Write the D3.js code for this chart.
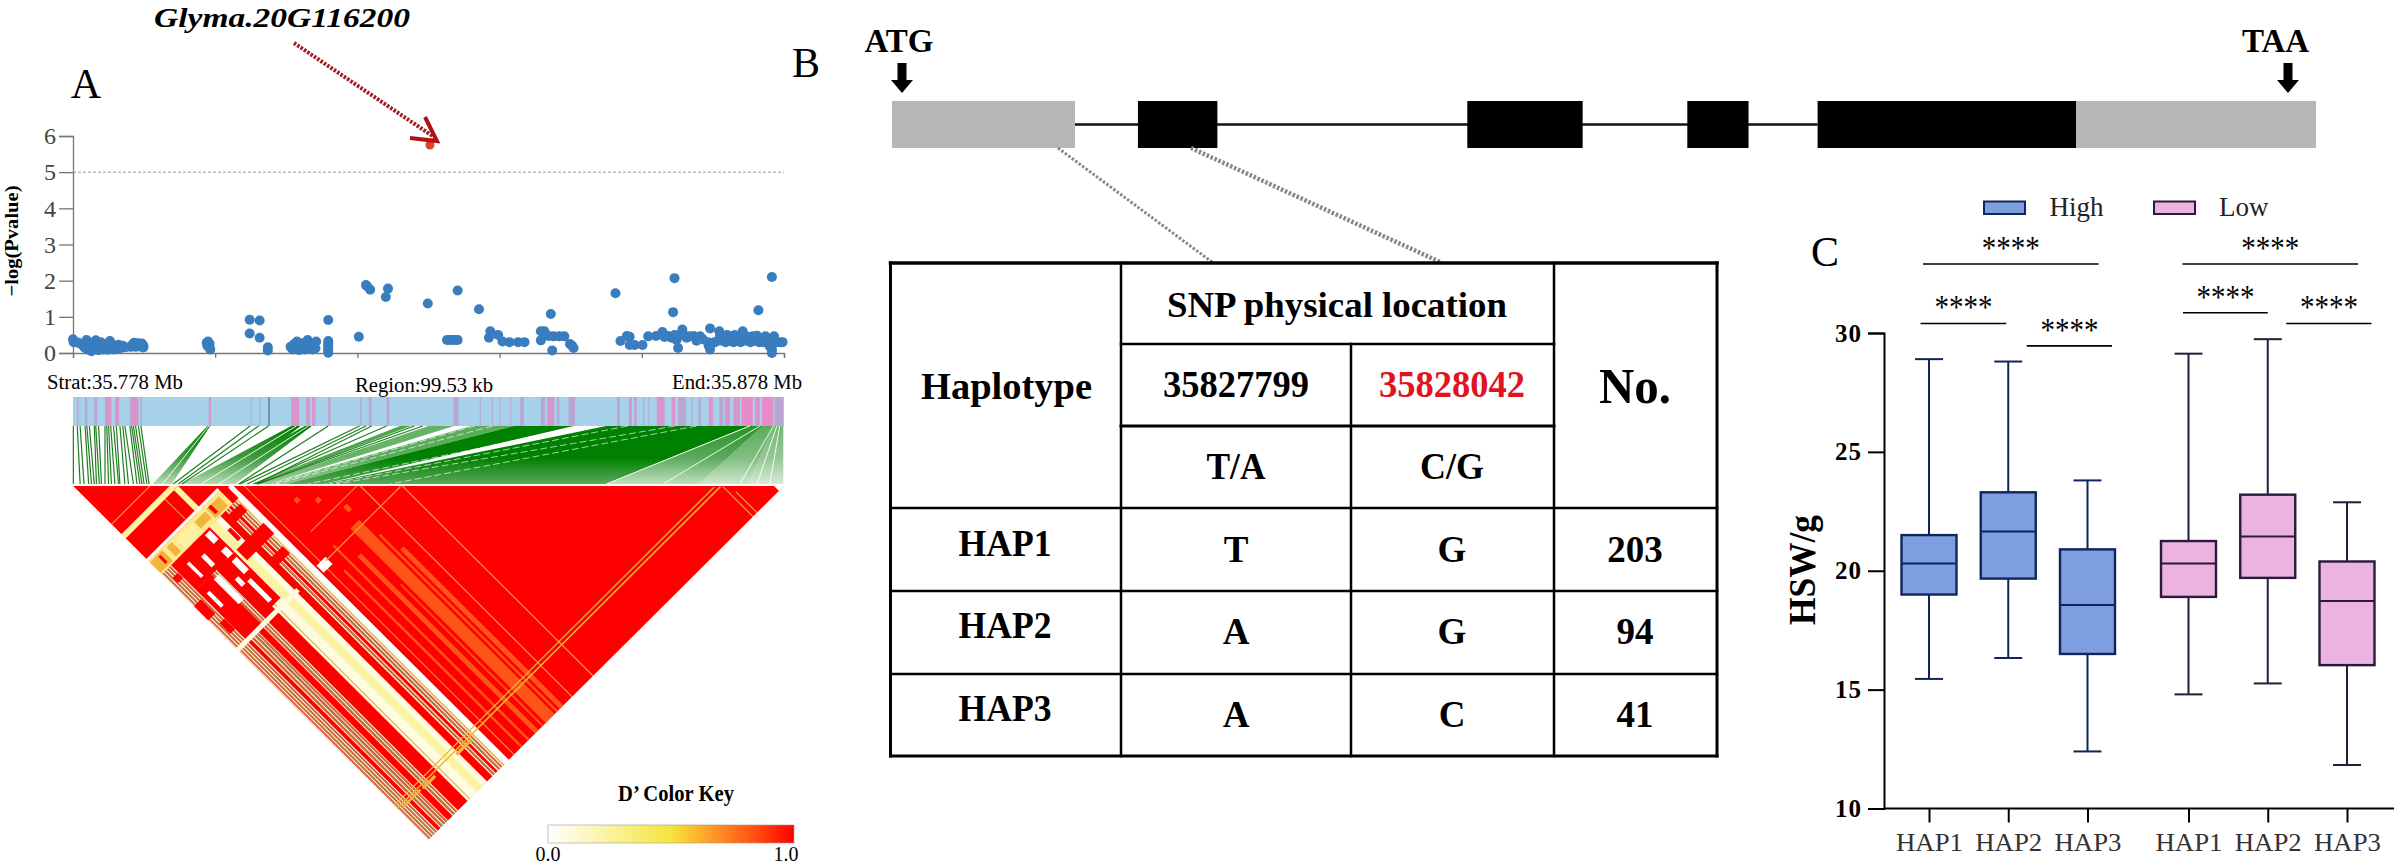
<!DOCTYPE html>
<html><head><meta charset="utf-8">
<script src="https://cdn.jsdelivr.net/npm/d3@7"></script>
<style>html,body{margin:0;background:#fff}svg{display:block}text{font-family:"Liberation Serif",serif}</style>
</head><body><svg id="c" width="2397" height="866"></svg>
<script>
/* ---------- Panel A : association scan (position kb from region start, -log10 P) ---------- */
const leadSnp=[[50.2,5.75]];
const scanLeft=[[0,.38],[.1,.3],[.5,.3],[.9,.27],[1.3,.23],[1.6,.15],[1.9,.36],[1.9,.25],[2,.1],[2.3,.18],[2.6,.05],[2.9,.22],[3,.12],[3.2,.35],[3.3,.28],[3.5,.2],[3.6,.08],[3.9,.3],[4,.15],[4.3,.1],[4.4,.25],[4.8,.2],[4.9,.09],[5.2,.33],[5.3,.26],[5.4,.16],[5.7,.1],[5.9,.2],[6.2,.12],[6.4,.23],[6.8,.14],[7,.2],[7.4,.16],[8.1,.17],[8.4,.24],[8.6,.28],[8.8,.17],[9.2,.27],[9.4,.18],[9.7,.26],[9.9,.2],[9.9,.15]];
const scanMid=[[18.8,.28],[19,.32],[19.2,.26],[18.9,.2],[19.2,.17],[19.3,.1],[24.85,.92],[26.25,.9],[24.85,.54],[26.25,.42],[27.4,.16],[27.4,.07],[35.9,.91],[30.6,.17],[30.9,.1],[31.1,.25],[31.2,.14],[31.5,.32],[31.6,.2],[31.8,.08],[32.1,.27],[32.2,.15],[32.6,.22],[32.6,.1],[33,.36],[33.1,.27],[33.2,.15],[33.5,.25],[33.7,.1],[33.9,.2],[34.2,.32],[34.1,.13],[35.9,.33],[35.9,.26],[35.9,.2],[35.9,.14],[35.9,.08],[35.9,.01],[40.2,.45],[41.2,1.88],[41.4,1.84],[41.8,1.75],[44.3,1.78],[44,1.55],[49.9,1.37],[54.1,1.73],[57.1,1.21],[52.6,.36],[53,.36],[53.4,.36],[53.8,.36],[54.1,.36],[58.7,.6],[58.5,.42],[59.8,.5],[60.4,.32],[61.4,.3],[62.6,.3],[63.5,.3],[67.2,1.08],[65.8,.6],[66.3,.6],[65.8,.35],[66.9,.47],[67.6,.46],[68.4,.46],[69.1,.46],[67.4,.07],[69.9,.25],[70.2,.2],[70.4,.14]];
const scanRight=[[76.3,1.65],[84.6,2.07],[84.4,1.13],[96.4,1.18],[98.3,2.1],[77,.33],[77.9,.47],[78.3,.45],[78.3,.22],[79,.22],[80.1,.22],[80.9,.46],[82,.47],[82.9,.58],[83.2,.44],[83.7,.47],[84.2,.42],[84.6,.5],[84.9,.36],[85.1,.14],[85.3,.5],[85.7,.65],[85.9,.5],[86.3,.42],[86.7,.46],[87.3,.47],[87.7,.34],[88.2,.46],[88.6,.38],[89.6,.68],[89.3,.3],[89.4,.2],[89.6,.1],[90,.28],[90.3,.3],[90.7,.34],[90.9,.6],[91,.48],[91.3,.34],[91.5,.44],[91.8,.3],[92,.5],[92.3,.34],[92.6,.46],[92.9,.3],[93.1,.5],[93.4,.34],[93.7,.44],[93.9,.3],[94.2,.6],[94.5,.48],[94.7,.34],[95,.44],[95.3,.3],[95.6,.46],[95.9,.34],[96.2,.48],[96.5,.3],[96.8,.4],[97.1,.3],[97.4,.46],[97.7,.34],[98,.18],[98.1,.3],[98.3,.1],[98.3,.0],[98.6,.46],[98.9,.3],[99.4,.3],[99.8,.3]];
const scanTicks=[0,1,2,3,4,5,6];
const threshold=5;

/* ---------- SNP strip: pink marks [from,to,kind] in kb ---------- */
const stripMarks=[[.6,.8,"m"],[1.7,2,"m"],[3,3.4,"m"],[4.5,5.4,"p"],[5.9,6.5,"p"],[8,8.3,"m"],[8.3,9.2,"p"],[9.5,9.7,"m"],[19.1,19.4,"p"],[25,25.1,"m"],[26.2,26.3,"m"],[27.5,27.6,"d"],[30.7,31.8,"p"],[32.8,33.3,"p"],[33.6,34.1,"p"],[35.9,36.2,"p"],[40.4,40.6,"m"],[41.6,42,"m"],[44.1,44.5,"m"],[53.5,54.2,"m"],[57.2,57.3,"m"],[58.9,59,"m"],[60,60.1,"m"],[61.5,61.6,"m"],[62.9,63.4,"m"],[65.8,66.4,"m"],[66.7,67.7,"p"],[68.1,68.4,"m"],[69.7,70.6,"m"],[76.5,76.9,"m"],[78.2,78.6,"p"],[78.9,79.3,"m"],[80.2,80.3,"m"],[80.9,81,"m"],[82.1,83.2,"p"],[84.2,84.7,"p"],[85.1,86.2,"m"],[87,87.1,"m"],[88,88.3,"m"],[89.4,90,"p"],[90.9,91.5,"m"],[91.7,92.4,"p"],[92.9,93.8,"p"],[94,95.6,"s"],[95.9,96.6,"p"],[96.9,98.5,"s"],[98.7,99.9,"m"]];

/* ---------- Links from SNP strip (genomic) to LD triangle (SNP order): top from/to, bottom from/to, opacity, fade ---------- */
const linkFans=[[18.9,19.3,11.2,13.9,1,"fadeLight"],[30.7,32,15.3,21.6,1,"fadeLight"],[32.6,33.6,18.3,22.8,1,"fadeLight"],[46,47.5,25.2,26,.7,"fade"],[50,53.6,26,27.5,.6,"fade"],[56,62,27.5,30,.65,"fade"],[62,70.4,30,35.2,1,"fade"],[75,95,35.2,75,1,"fade"],[95,97,75,88,.85,"fadeLight"],[97,98.5,88,95,.65,"fadeLight"],[98.5,99.9,95,99.9,.55,"fadeLight"]];
const linkLines=[[.05,.05],[.6,1],[1,1.55],[1.7,2.2],[1.95,2.6],[2.3,3],[3,3.3],[3.2,3.7],[3.6,4],[4.5,4.5],[4.75,5],[5,5.4],[5.3,5.9],[5.7,6.4],[6.1,6.6],[6.6,7.3],[7,7.8],[7.3,8.5],[8,9],[8.25,9.4],[8.5,9.7],[8.8,10],[9.2,10.4],[9.55,10.7],[24.9,14.1],[26.1,14.8],[27.5,15.3],[35.9,23.3],[40.3,23.5],[41.2,24.5],[42,25.8],[44.1,25.4],[48,25.9],[49.2,26]];
const linkGaps=[[95.2,75],[96.6,83],[98.5,93.8],[99,96.2],[99.4,98],[19.1,12.6],[31.4,18],[33.1,20.5]];
const linkDashGaps=[[87.7,44.6],[84.7,37],[78,36],[72,33],[59,28.5],[56.5,28]];

/* ---------- LD triangle bands: [SNP i from, i to, SNP j from, j to, colour key] ---------- */
const ldBands=[
[0,10.8,10.7,10.95,"o"],[11,11.2,14.8,20.4,"o"],[0,14.8,13.6,14.8,"y"],[13.6,14.8,14.8,25,"y"],
[0,20,20.6,21.3,"w"],[0,20,21.3,25,"n"],[0,3.5,21.6,24.6,"g"],[4.5,6,21.8,24.4,"g"],[7,11.5,22,24.6,"y"],[12,15,22.2,24,"g"],[15.5,19,22,24.6,"g"],[2,2.6,22,24,"r"],[16,16.8,22,24,"r"],
[0,22.6,25,100,"c"],
[.2,.6,25,100,"b"],[.8,1.2,25,100,"b"],[1.4,1.8,25,100,"b"],[2,2.4,25,100,"b"],[2.6,3.4,25,100,"r"],[3.6,4.1,25,100,"b"],[4.3,4.8,25,100,"b"],[4.95,5.35,25,100,"b"],[5.5,6.8,25,100,"r"],[7,7.5,25,100,"b"],[7.7,8.1,25,100,"b"],[8.3,11,25,100,"r"],
[11.5,11.75,25,100,"t"],[13.6,15.2,25,100,"y"],[16.5,18,25,100,"r"],[18.25,18.7,25,100,"b"],[18.9,19.5,25,100,"r"],[19.75,20.2,25,100,"b"],[20.4,20.8,25,100,"b"],[21,21.3,25,100,"t"],
[3,13.4,25,32,"r"],[3,7,32,46,"r"],[9,13.4,32,45,"r"],
[11.6,13,25.5,28,"w"],[11.6,13,30,32,"w"],[11.6,13,33,36.5,"w"],[6.6,8,33,40,"w"],[5,5.7,27,31,"w"],[8,9,28,31,"w"],[3.6,4.4,34,38,"w"],[9.5,10.5,36,38,"w"],[11,12,38,44,"w"],[0,2,34,38,"r"],[1,2.5,27,28.5,"r"],[1.2,2.6,40,43,"r"],
[14,22,32,35,"r"],[15.4,16.3,28,31,"r"],[17,21,26,28,"r"],[17,21,38,40,"r"],
[0,17,45.8,46.8,"c"],
[21.6,22.6,22,100,"w"],[24,24.2,22.6,100,"o"],
[23,25.5,45.5,47.5,"w"],
[28,28.5,45,100,"l"],[30,31,50,100,"l"],[33,35.5,45,100,"l"],[36,36.5,50,100,"l"],[37,38,55,100,"l"],[26,26.5,50,100,"l"],[32,32.4,60,100,"l"],
[40.3,40.55,39.9,100,"o"],[46.2,46.45,46,100,"o"],
[27,39.9,39.8,40,"o"],[25,46,46,46.25,"o"],[29,30,33,34,"l"],[32,33,36,37,"l"],[35,36,41,42.5,"l"],
[0,90,90.2,90.45,"g"],[0,91,91,91.3,"g"],[1,6,91.5,92,"g"],[6.5,10,91.6,92.2,"g"],[16,20,91.5,92.2,"g"],
[91.2,91.45,91.5,100,"o"],[92.3,92.55,94,100,"o"],
[98.6,100,98.6,100,"w"]
];
const ldColours={r:"#ff0000",c:"#fffbe0",y:"#fbf3a2",n:"#ffe88e",g:"#f1b53c",o:"#fb8f3c",b:"#c76a40",t:"#e3b264",w:"#ffffff",l:"#ff5418"};
const keyStops=[[0,"#ffffff"],[.5,"#f6e53c"],[.7,"#ff8c24"],[.85,"#ff4a10"],[1,"#ff0000"]];

/* ---------- Panel B ---------- */
const geneParts=[[0,12.85,"u"],[17.27,22.85,"e"],[40.4,48.5,"e"],[55.85,60.15,"e"],[65,83.15,"e"],[83.15,100,"u"]];
const tableHeadTop="SNP physical location";
const tableSnps=["35827799","35828042"];
const tableAlleles=["T/A","C/G"];
const tableHaps=["HAP1","HAP2","HAP3"];
const tableFirst=["T","A","A"];
const tableSecond=["G","G","C"];
const tableCounts=["203","94","41"];

/* ---------- Panel C ---------- */
const boxGroups=["High","Low"];
const boxHaps=["HAP1","HAP2","HAP3"];
const boxHigh=[[15.45,19,20.3,21.5,28.9],[16.33,19.67,21.65,23.3,28.8],[12.4,16.5,18.56,20.9,23.8]];
const boxLow=[[14.8,18.9,20.3,21.25,29.13],[15.26,19.7,21.44,23.2,29.74],[11.83,16.03,18.73,20.39,22.88]];
const boxTicks=[10,15,20,25,30];
const brackets=[["High",0,2,32.9],["High",0,1,30.4],["High",1,2,29.46],["Low",0,2,32.9],["Low",0,1,30.85],["Low",1,2,30.4]];

/* ---------- drawing ---------- */
const svg=d3.select("#c");
const defs=svg.append("defs");
const T=(x,y,s,o={})=>{const t=svg.append("text").attr("x",x).attr("y",y).text(s)
  .attr("font-size",o.size||20).attr("text-anchor",o.anchor||"middle").attr("fill",o.fill||"#000")
  .attr("font-weight",o.weight||"normal").attr("font-style",o.style||"normal");
  if(o.len)t.attr("textLength",o.len).attr("lengthAdjust","spacingAndGlyphs");
  if(o.rot)t.attr("transform",`rotate(${o.rot} ${x} ${y})`);
  if(o.family)t.style("font-family",o.family);return t;};

/* A : scan */
const xKb=d3.scaleLinear().domain([0,100]).range([73,784]);
const yP=d3.scaleLinear().domain([0,6]).range([353,136]);
const axA=svg.append("g").attr("color","#777");
axA.append("g").attr("transform","translate(73,0)").call(d3.axisLeft(yP).tickValues(scanTicks).tickSize(14).tickPadding(3).tickFormat(d3.format("d")))
  .call(g=>g.selectAll("text").attr("font-size",24).attr("fill","#444").style("font-family","Liberation Serif"))
  .call(g=>g.selectAll("path,line").attr("stroke-width",1.3));
axA.append("g").attr("transform","translate(0,353)").call(d3.axisBottom(xKb).tickValues([0,20,40,60,80,100]).tickSize(5).tickFormat(""))
  .call(g=>g.selectAll("path,line").attr("stroke-width",1.3));
svg.append("line").attr("x1",xKb(0)).attr("x2",xKb(100)).attr("y1",yP(threshold)).attr("y2",yP(threshold))
  .attr("stroke","#999").attr("stroke-width",1).attr("stroke-dasharray","3 2");
svg.append("g").selectAll("circle").data([...scanLeft,...scanMid,...scanRight]).join("circle")
  .attr("cx",d=>xKb(d[0])).attr("cy",d=>yP(d[1])).attr("r",5).attr("fill","#3a7dbf");
svg.append("g").selectAll("circle").data(leadSnp).join("circle")
  .attr("cx",d=>xKb(d[0])).attr("cy",d=>yP(d[1])).attr("r",4.5).attr("fill","#e0403a");
T(14,241,"−log(Pvalue)",{size:19,weight:"bold",rot:-90,len:111}).attr("dominant-baseline","middle");
T(47,389,"Strat:35.778 Mb",{size:20,anchor:"start",len:136});
T(424,392,"Region:99.53 kb",{size:20,len:138});
T(737,389,"End:35.878 Mb",{size:20,len:130});
T(282,27,"Glyma.20G116200",{size:27,weight:"bold",style:"italic",len:256});
svg.append("line").attr("x1",294).attr("y1",43).attr("x2",434).attr("y2",137).attr("stroke","#a51c24").attr("stroke-width",4).attr("stroke-dasharray","2.5 1.5");
svg.append("path").attr("d",d3.line()([[425,117],[437,141],[410,138]])).attr("fill","none").attr("stroke","#b01212").attr("stroke-width",4);
T(86,98,"A",{size:42});T(806,77,"B",{size:42});T(1825,266,"C",{size:42});

/* strip */
const kindCol={m:"#b9a6d4",p:"#d795cc",s:"#e98bc9",d:"#3d5c78"};
svg.append("rect").attr("x",xKb(0)).attr("y",397).attr("width",xKb(100)-xKb(0)).attr("height",29).attr("fill","#a7d1e8");
svg.append("g").selectAll("rect").data(stripMarks).join("rect")
  .attr("x",d=>xKb(d[0])).attr("width",d=>Math.max(1,xKb(d[1])-xKb(d[0]))).attr("y",397).attr("height",29).attr("fill",d=>kindCol[d[2]]);

/* links */
const gTop=426,gBot=484,GREEN="#008000";
[["fade","#5aa85a"],["fadeLight","#b4dab4"]].forEach(f=>{
  const grad=defs.append("linearGradient").attr("id",f[0]).attr("gradientUnits","userSpaceOnUse").attr("x1",0).attr("x2",0).attr("y1",gTop).attr("y2",gBot);
  grad.append("stop").attr("offset",0).attr("stop-color",GREEN);
  grad.append("stop").attr("offset",.55).attr("stop-color",f[0]==="fade"?GREEN:"#3f9a3f");
  grad.append("stop").attr("offset",1).attr("stop-color",f[1]);
});
svg.append("g").selectAll("path").data(linkFans).join("path")
  .attr("d",d=>d3.line()([[xKb(d[0]),gTop],[xKb(d[1]),gTop],[xKb(d[3]),gBot],[xKb(d[2]),gBot]])+"Z")
  .attr("fill",d=>`url(#${d[5]})`).attr("opacity",d=>d[4]);
svg.append("g").selectAll("line").data(linkLines).join("line")
  .attr("x1",d=>xKb(d[0])).attr("x2",d=>xKb(d[1])).attr("y1",gTop).attr("y2",gBot)
  .attr("stroke","#1f7f1f").attr("stroke-width",1.2);
svg.append("g").selectAll("line").data(linkGaps).join("line")
  .attr("x1",d=>xKb(d[0])).attr("x2",d=>xKb(d[1])).attr("y1",gTop).attr("y2",gBot).attr("stroke","#fff").attr("stroke-width",.9);
svg.append("g").selectAll("line").data(linkDashGaps).join("line")
  .attr("x1",d=>xKb(d[0])).attr("x2",d=>xKb(d[1])).attr("y1",gTop).attr("y2",gBot).attr("stroke","#fff").attr("stroke-width",.8).attr("stroke-opacity",.8).attr("stroke-dasharray","7 3");

/* triangle */
const ldTop=486, yD=d3.scaleLinear().domain([0,100]).range([ldTop,ldTop+354]);
const pt=(i,j)=>[xKb((i+j)/2),yD(j-i)];
defs.append("clipPath").attr("id","tri").append("path").attr("d",d3.line()([pt(0,0),pt(100,100),pt(0,100)])+"Z");
const ld=svg.append("g").attr("clip-path","url(#tri)");
ld.append("path").attr("d",d3.line()([pt(0,0),pt(100,100),pt(0,100)])+"Z").attr("fill",ldColours.r);
ld.selectAll("path.b").data(ldBands).join("path").attr("class","b")
  .attr("d",d=>d3.line()([pt(d[0],d[2]),pt(d[1],d[2]),pt(d[1],d[3]),pt(d[0],d[3])])+"Z")
  .attr("fill",d=>ldColours[d[4]]);

/* colour key */
const kg=defs.append("linearGradient").attr("id","key");
keyStops.forEach(s=>kg.append("stop").attr("offset",s[0]).attr("stop-color",s[1]));
svg.append("rect").attr("x",548).attr("y",825).attr("width",246).attr("height",18).attr("fill","url(#key)").attr("stroke","#999").attr("stroke-width",.6);
T(676,801,"D’ Color Key",{size:23,weight:"bold",len:116});
T(548,861,"0.0",{size:20});T(786,861,"1.0",{size:20});

/* B : gene model */
const xGene=d3.scaleLinear().domain([0,100]).range([892,2316]);
svg.append("line").attr("x1",xGene(12.85)).attr("x2",xGene(65)).attr("y1",124.5).attr("y2",124.5).attr("stroke","#111").attr("stroke-width",2.5);
svg.append("g").selectAll("rect").data(geneParts).join("rect")
  .attr("x",d=>xGene(d[0])).attr("width",d=>xGene(d[1])-xGene(d[0])).attr("y",101).attr("height",47)
  .attr("fill",d=>d[2]==="u"?"#b7b7b7":"#000");
[[902,"ATG",899],[2288,"TAA",2275.5]].forEach(a=>{
  T(a[2],52,a[1],{size:33,weight:"bold"});
  svg.append("path").attr("fill","#000").attr("d",d3.line()([[a[0]-4.5,63],[a[0]+4.5,63],[a[0]+4.5,80],[a[0]+11,80],[a[0],93],[a[0]-11,80],[a[0]-4.5,80]])+"Z");
});
[[1058,1212,3],[1191,1440,4.5]].forEach(c=>svg.append("line").attr("x1",c[0]).attr("y1",148).attr("x2",c[1]).attr("y2",262).attr("stroke","#888").attr("stroke-width",c[2]).attr("stroke-dasharray","2.5 1.8"));

/* table */
const cx=[890.5,1121,1351,1554,1717], ry=[263,344,426,508,591,674,756];
const tl=(a,b,c,d,w)=>svg.append("line").attr("x1",a).attr("y1",b).attr("x2",c).attr("y2",d).attr("stroke","#000").attr("stroke-width",w).attr("stroke-linecap","square");
tl(cx[0],ry[0],cx[4],ry[0],3.5);tl(cx[0],ry[6],cx[4],ry[6],3);tl(cx[0],ry[0],cx[0],ry[6],3);tl(cx[4],ry[0],cx[4],ry[6],3);
tl(cx[1],ry[0],cx[1],ry[6],2.5);tl(cx[3],ry[0],cx[3],ry[6],2.5);tl(cx[2],ry[1],cx[2],ry[6],2.5);
tl(cx[1],ry[1],cx[3],ry[1],2.5);tl(cx[1],ry[2],cx[3],ry[2],3);
[3,4,5].forEach(k=>tl(cx[0],ry[k],cx[4],ry[k],2.5));
const B={size:37,weight:"bold"};
T(1006.5,399,"Haplotype",{...B,size:38,len:171});
T(1337,317,tableHeadTop,{...B,size:35,len:340});
T(1236,397,tableSnps[0],{...B,len:146});
T(1452,397,tableSnps[1],{...B,len:146,fill:"#e0141c"});
T(1635,403,"No.",{size:50,weight:"bold",len:72});
T(1236,479,tableAlleles[0],{...B,len:59});T(1452,479,tableAlleles[1],{...B,len:64});
tableHaps.forEach((h,k)=>{
  const base=[556,638,721][k], b2=[562,644,727][k];
  T(1005,base,h,{...B,len:93});
  T(1236,b2,tableFirst[k],B);T(1452,b2,tableSecond[k],B);T(1635,b2,tableCounts[k],B);
});

/* C : boxes */
const yB=d3.scaleLinear().domain([10,30]).range([808.5,333]);
const outer=d3.scalePoint().domain(boxGroups).range([1929,2188.5]);
const inner=d3.scalePoint().domain(boxHaps).range([0,158.5]);
const keys=boxGroups.flatMap(g=>boxHaps.map(h=>g+"|"+h));
const xB=d3.scaleOrdinal().domain(keys).range(keys.map(k=>{const [g,h]=k.split("|");return outer(g)+inner(h);}));
const cols={High:["#7d9fe0","#10265a"],Low:["#ecb2e0","#2a1a3c"]};
const boxes=[...boxHigh.map((v,i)=>({g:"High",h:boxHaps[i],v})),...boxLow.map((v,i)=>({g:"Low",h:boxHaps[i],v}))];
const gb=svg.append("g").selectAll("g").data(boxes).join("g").attr("stroke",d=>cols[d.g][1]).attr("stroke-width",2);
gb.each(function(d){
  const s=d3.select(this), x=xB(d.g+"|"+d.h), hw=27.5, cap=14;
  s.append("line").attr("x1",x).attr("x2",x).attr("y1",yB(d.v[0])).attr("y2",yB(d.v[4]));
  [d.v[0],d.v[4]].forEach(w=>s.append("line").attr("x1",x-cap).attr("x2",x+cap).attr("y1",yB(w)).attr("y2",yB(w)));
  s.append("rect").attr("x",x-hw).attr("width",2*hw).attr("y",yB(d.v[3])).attr("height",yB(d.v[1])-yB(d.v[3])).attr("fill",cols[d.g][0]).attr("stroke-width",2.4);
  s.append("line").attr("x1",x-hw).attr("x2",x+hw).attr("y1",yB(d.v[2])).attr("y2",yB(d.v[2]));
});
const ay=svg.append("g").attr("transform","translate(1884,0)").call(d3.axisLeft(yB).tickValues(boxTicks).tickSize(16).tickPadding(6));
ay.selectAll("path,line").attr("stroke","#000").attr("stroke-width",2);
ay.selectAll("text").attr("font-size",25).attr("font-weight","bold").attr("fill","#000").style("font-family","Liberation Serif").attr("letter-spacing",1);
const ax=svg.append("g").attr("transform","translate(0,808.5)").call(d3.axisBottom(xB).tickSize(14).tickPadding(10).tickFormat(k=>k.split("|")[1]));
ax.select(".domain").remove();
ax.selectAll("line").attr("stroke","#000").attr("stroke-width",2);
ax.selectAll("text").attr("font-size",26).attr("fill","#333").style("font-family","Liberation Serif").attr("textLength",67).attr("lengthAdjust","spacingAndGlyphs");
svg.append("line").attr("x1",1884).attr("x2",2394).attr("y1",808.5).attr("y2",808.5).attr("stroke","#000").attr("stroke-width",2);
T(1815,570,"HSW/g",{size:38,weight:"bold",rot:-90,len:110});

/* significance */
brackets.forEach(b=>{
  const a=outer(b[0])+inner(boxHaps[b[1]]), c=outer(b[0])+inner(boxHaps[b[2]]), y=yB(b[3]);
  const wide=b[2]-b[1]===2, first=b[1]===0, low=b[0]==="Low";
  const x1=a+(wide?-6:(first?(low?-5.5:-8.5):18.5));
  const x2=c+(wide?11:(first?(low?0:-2):24.5));
  svg.append("line").attr("x1",x1).attr("x2",x2).attr("y1",y).attr("y2",y).attr("stroke","#000").attr("stroke-width",1.6);
  T((x1+x2)/2,y-5,"****",{size:34,len:58});
});

/* legend */
[["High",1984,2049.5],["Low",2154,2219]].forEach(l=>{
  const c=cols[l[0]];
  svg.append("rect").attr("x",l[1]).attr("y",201.5).attr("width",41).attr("height",12.5).attr("fill",c[0]).attr("stroke",c[1]).attr("stroke-width",2);
  T(l[2],216,l[0],{size:27,anchor:"start",fill:"#222"});
});
</script></body></html>
